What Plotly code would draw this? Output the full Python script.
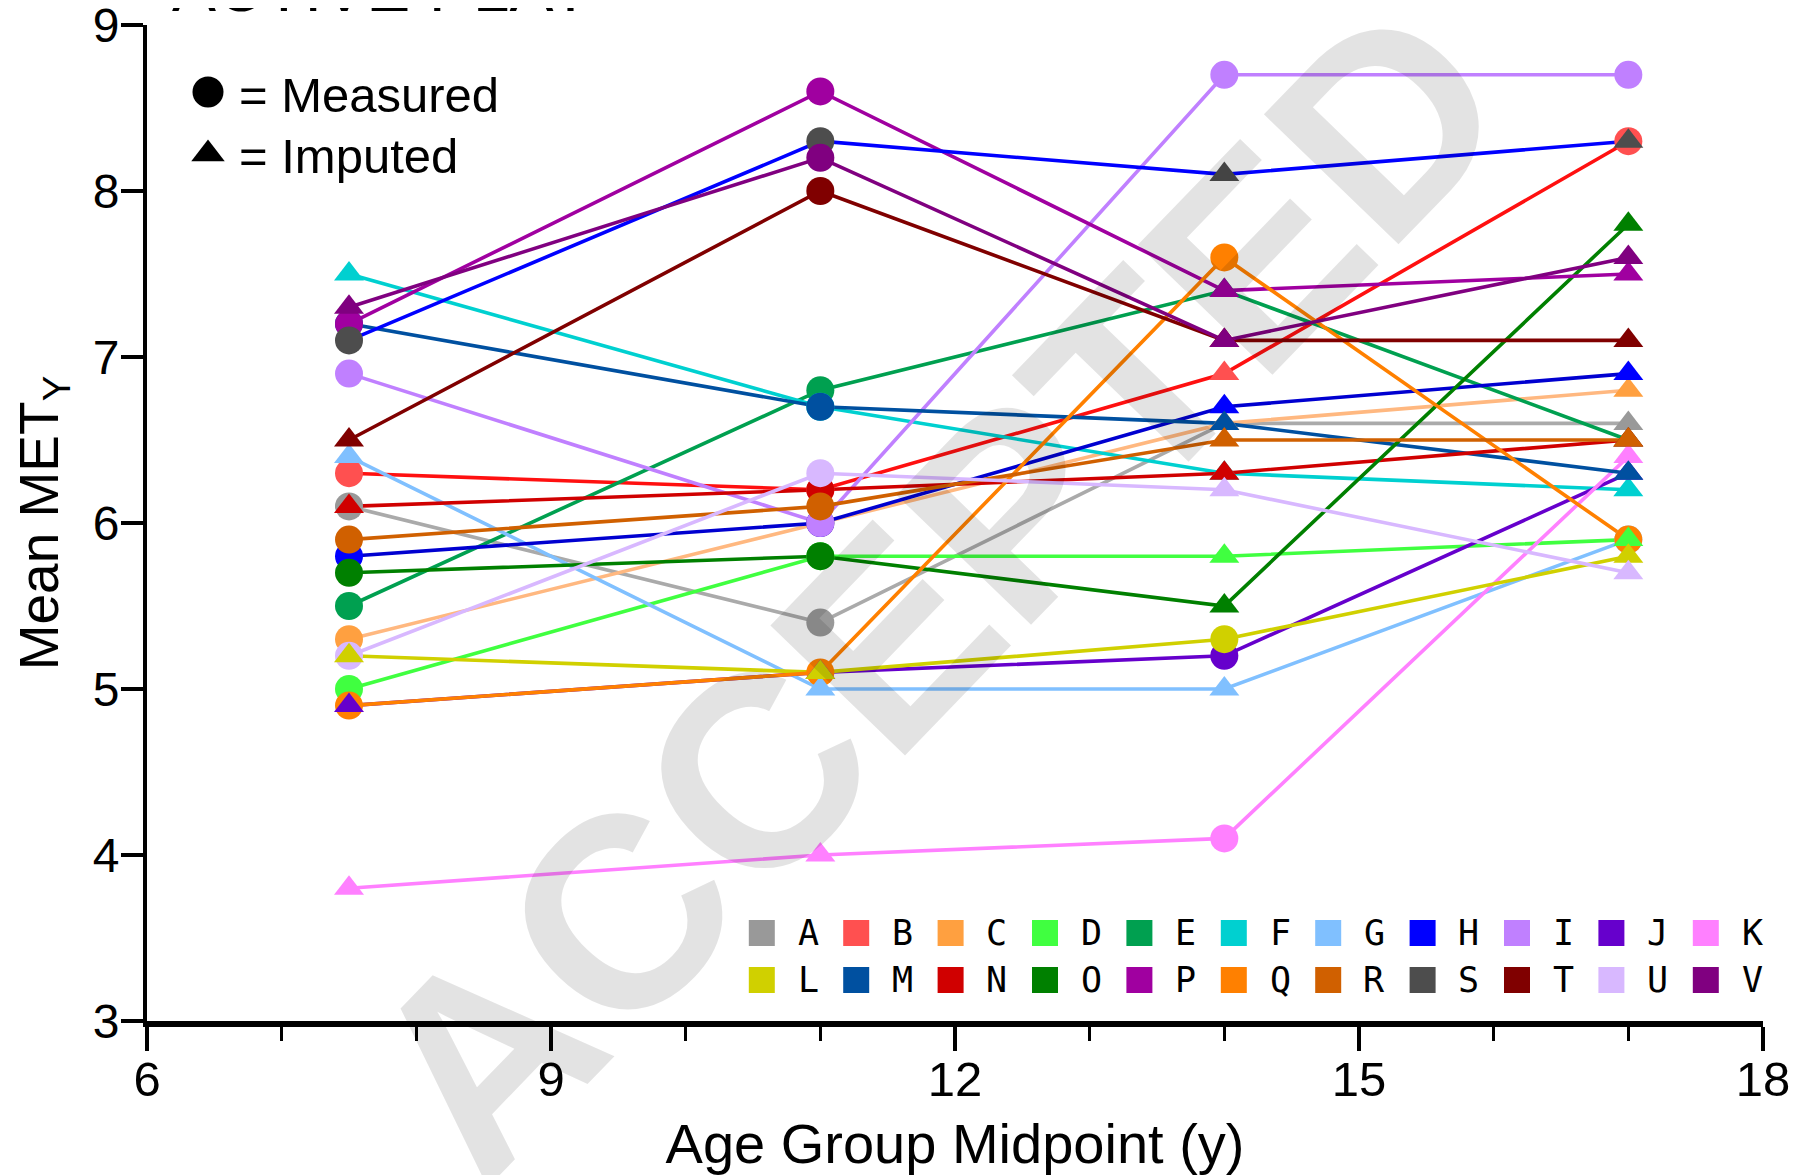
import plotly.graph_objects as go

# ---------------- data ----------------
ages = [7.5, 11, 14, 17]
series_names = list("ABCDEFGHIJKLMNOPQRSTUV")

A_y = [6.1, 5.4, 6.6, 6.6]; A_m = "CCTT"
B_y = [6.3, 6.2, 6.9, 8.3]; B_m = "CCTC"
C_y = [5.3, 6.0, 6.6, 6.8]; C_m = "CCTT"
D_y = [5.0, 5.8, 5.8, 5.9]; D_m = "CCTT"
E_y = [5.5, 6.8, 7.4, 6.5]; E_m = "CCTT"
F_y = [7.5, 6.7, 6.3, 6.2]; F_m = "TCTT"
G_y = [6.4, 5.0, 5.0, 5.9]; G_m = "TTTC"
H_y = [5.8, 6.0, 6.7, 6.9]; H_m = "CCTT"
I_y = [6.9, 6.0, 8.7, 8.7]; I_m = "CCCC"
J_y = [4.9, 5.1, 5.2, 6.3]; J_m = "TTCT"
K_y = [3.8, 4.0, 4.1, 6.4]; K_m = "TTCT"
L_y = [5.2, 5.1, 5.3, 5.8]; L_m = "TTCT"
M_y = [7.2, 6.7, 6.6, 6.3]; M_m = "CCTT"
N_y = [6.1, 6.2, 6.3, 6.5]; N_m = "TCTT"
O_y = [5.7, 5.8, 5.5, 7.8]; O_m = "CCTT"
P_y = [7.2, 8.6, 7.4, 7.5]; P_m = "CCTT"
Q_y = [4.9, 5.1, 7.6, 5.9]; Q_m = "CCCC"
R_y = [5.9, 6.1, 6.5, 6.5]; R_m = "CCTT"
S_y = [7.1, 8.3, 8.1, 8.3]; S_m = "CCTT"
T_y = [6.5, 8.0, 7.1, 7.1]; T_m = "TCTT"
U_y = [5.2, 6.3, 6.2, 5.7]; U_m = "CCTT"
V_y = [7.3, 8.2, 7.1, 7.6]; V_m = "TCTT"

marker_colors = ["#999999", "#FF5050", "#FFA040", "#40FF40", "#00A050", "#00D0D0",
                 "#80C0FF", "#0000FF", "#C080FF", "#6600CC", "#FF80FF",
                 "#D0D000", "#0050A0", "#D00000", "#008000", "#A000A0", "#FF8000",
                 "#D06000", "#4D4D4D", "#800000", "#D8B8FF", "#800080"]
line_colors = ["#AAAAAA", "#FF1010", "#FFB880", "#40FF40", "#00A050", "#00D0D0",
               "#80C0FF", "#0000D0", "#C080FF", "#6600CC", "#FF80FF",
               "#D0D000", "#0050A0", "#D00000", "#008000", "#A000A0", "#FF8000",
               "#D06000", "#0000FF", "#800000", "#D8B8FF", "#800080"]

x_ticks = [6, 9, 12, 15, 18]
y_ticks = [3, 4, 5, 6, 7, 8, 9]

values = [A_y, B_y, C_y, D_y, E_y, F_y, G_y, H_y, I_y, J_y, K_y,
          L_y, M_y, N_y, O_y, P_y, Q_y, R_y, S_y, T_y, U_y, V_y]
kinds = [A_m, B_m, C_m, D_m, E_m, F_m, G_m, H_m, I_m, J_m, K_m,
         L_m, M_m, N_m, O_m, P_m, Q_m, R_m, S_m, T_m, U_m, V_m]

# ---------------- geometry (page pixels; the page body adds an 8px offset) ----------------
OFF = 8
W, H = 1810 - OFF, 1175 - OFF
PL, PT = 147, 25          # plot area left/top on the page
PW, PH = 1616, 996        # plot area size
ML, MT = PL - OFF, PT - OFF
MR, MB = W - ML - PW, H - MT - PH
FONT = "Liberation Sans, Arial, sans-serif"

fig = go.Figure()

# lines
for name, ys, lc in zip(series_names, values, line_colors):
    fig.add_trace(go.Scatter(x=ages, y=ys, mode="lines", name=name,
                             line=dict(color=lc, width=3.6),
                             showlegend=False, hoverinfo="skip"))
# circles (measured)
for name, ys, ks, mc in zip(series_names, values, kinds, marker_colors):
    xs = [a for a, k in zip(ages, ks) if k == "C"]
    yy = [v for v, k in zip(ys, ks) if k == "C"]
    fig.add_trace(go.Scatter(x=xs, y=yy, mode="markers", name=name,
                             marker=dict(symbol="circle", size=28, color=mc),
                             showlegend=False))
# triangles (imputed)
for name, ys, ks, mc in zip(series_names, values, kinds, marker_colors):
    xs = [a for a, k in zip(ages, ks) if k == "T"]
    yy = [v for v, k in zip(ys, ks) if k == "T"]
    fig.add_trace(go.Scatter(x=xs, y=yy, mode="markers", name=name,
                             marker=dict(symbol="triangle-up", size=26, color=mc),
                             showlegend=False))

# ---- custom legend on an overlay axis ----
leg_x0, leg_dx = 761.8, 94.4   # page pixel centre of first square, spacing
leg_y0, leg_dy = 933.0, 47.0   # page pixel centre of first row, row spacing
x2_range = [(PL - leg_x0) / leg_dx, (PL + PW - leg_x0) / leg_dx]
y2_range = [(PT + PH - leg_y0) / leg_dy, (PT - leg_y0) / leg_dy]

cols = [i % 11 for i in range(len(series_names))]
rows = [i // 11 for i in range(len(series_names))]
fig.add_trace(go.Scatter(x=cols, y=rows, xaxis="x2", yaxis="y2", mode="markers",
                         marker=dict(symbol="square", size=26, color=marker_colors),
                         showlegend=False, hoverinfo="skip"))
annotations = []
for name, c, r in zip(series_names, cols, rows):
    annotations.append(dict(x=c + 0.49, y=r, xref="x2", yref="y2", text=name,
                            showarrow=False, xanchor="center", yanchor="middle",
                            font=dict(family="DejaVu Sans Mono", size=35, color="black")))

# key: measured / imputed
key_x = (208 - leg_x0) / leg_dx
fig.add_trace(go.Scatter(x=[key_x], y=[(92 - leg_y0) / leg_dy], xaxis="x2", yaxis="y2",
                         mode="markers", marker=dict(symbol="circle", size=31, color="black"),
                         showlegend=False, hoverinfo="skip"))
fig.add_trace(go.Scatter(x=[key_x], y=[(154 - leg_y0) / leg_dy], xaxis="x2", yaxis="y2",
                         mode="markers", marker=dict(symbol="triangle-up", size=29, color="black"),
                         showlegend=False, hoverinfo="skip"))
key_tx = (237 - leg_x0) / leg_dx
annotations.append(dict(x=key_tx, y=(95 - leg_y0) / leg_dy, xref="x2", yref="y2",
                        text="= Measured", showarrow=False, xanchor="left", yanchor="middle",
                        font=dict(family=FONT, size=49, color="black")))
annotations.append(dict(x=key_tx, y=(156 - leg_y0) / leg_dy, xref="x2", yref="y2",
                        text="= Imputed", showarrow=False, xanchor="left", yanchor="middle",
                        font=dict(family=FONT, size=49, color="black")))

# cut-off title
annotations.append(dict(x=(170 - PL) / PW, y=1 + (PT - 26.5) / PH, xref="paper", yref="paper",
                        text="ACTIVE PLAY", showarrow=False, xanchor="left", yanchor="bottom",
                        font=dict(family=FONT, size=66, color="black")))

# watermark
annotations.append(dict(x=(935 - PL) / PW, y=1 - (589 - PT) / PH, xref="paper", yref="paper",
                        text="<b>ACCEPTED</b>", showarrow=False, textangle=-46,
                        xanchor="center", yanchor="middle",
                        font=dict(family=FONT, size=272, color="rgba(0,0,0,0.11)")))

fig.update_layout(
    width=W, height=H,
    margin=dict(l=ML, r=MR, t=MT, b=MB, pad=0, autoexpand=False),
    paper_bgcolor="white", plot_bgcolor="white",
    font=dict(family=FONT, color="black"),
    showlegend=False,
    annotations=annotations,
    xaxis=dict(range=[6, 18], tickvals=x_ticks, ticktext=[str(t) for t in x_ticks],
               showgrid=False, zeroline=False, automargin=False,
               showline=True, linecolor="black", linewidth=6,
               ticks="outside", ticklen=24, tickwidth=3.5, tickcolor="black",
               minor=dict(dtick=1, ticks="outside", ticklen=14, tickwidth=3, tickcolor="black"),
               tickfont=dict(size=49, family=FONT), ticklabelstandoff=-14,
               ticklabeloverflow="allow",
               title=dict(text="Age Group Midpoint (y)", font=dict(size=56, family=FONT), standoff=25)),
    yaxis=dict(range=[3, 9], tickvals=y_ticks, ticktext=[str(t) for t in y_ticks],
               showgrid=False, zeroline=False, automargin=False,
               showline=True, linecolor="black", linewidth=4,
               ticks="outside", ticklen=22, tickwidth=4, tickcolor="black",
               tickfont=dict(size=48, family=FONT), ticklabelstandoff=-8,
               ticklabeloverflow="allow",
               title=dict(text="Mean MET<sub>Y</sub>", font=dict(size=55, family=FONT), standoff=18)),
    xaxis2=dict(range=x2_range, overlaying="x", visible=False, showgrid=False, zeroline=False),
    yaxis2=dict(range=y2_range, overlaying="y", visible=False, showgrid=False, zeroline=False),
)

fig.write_html("out.html")
